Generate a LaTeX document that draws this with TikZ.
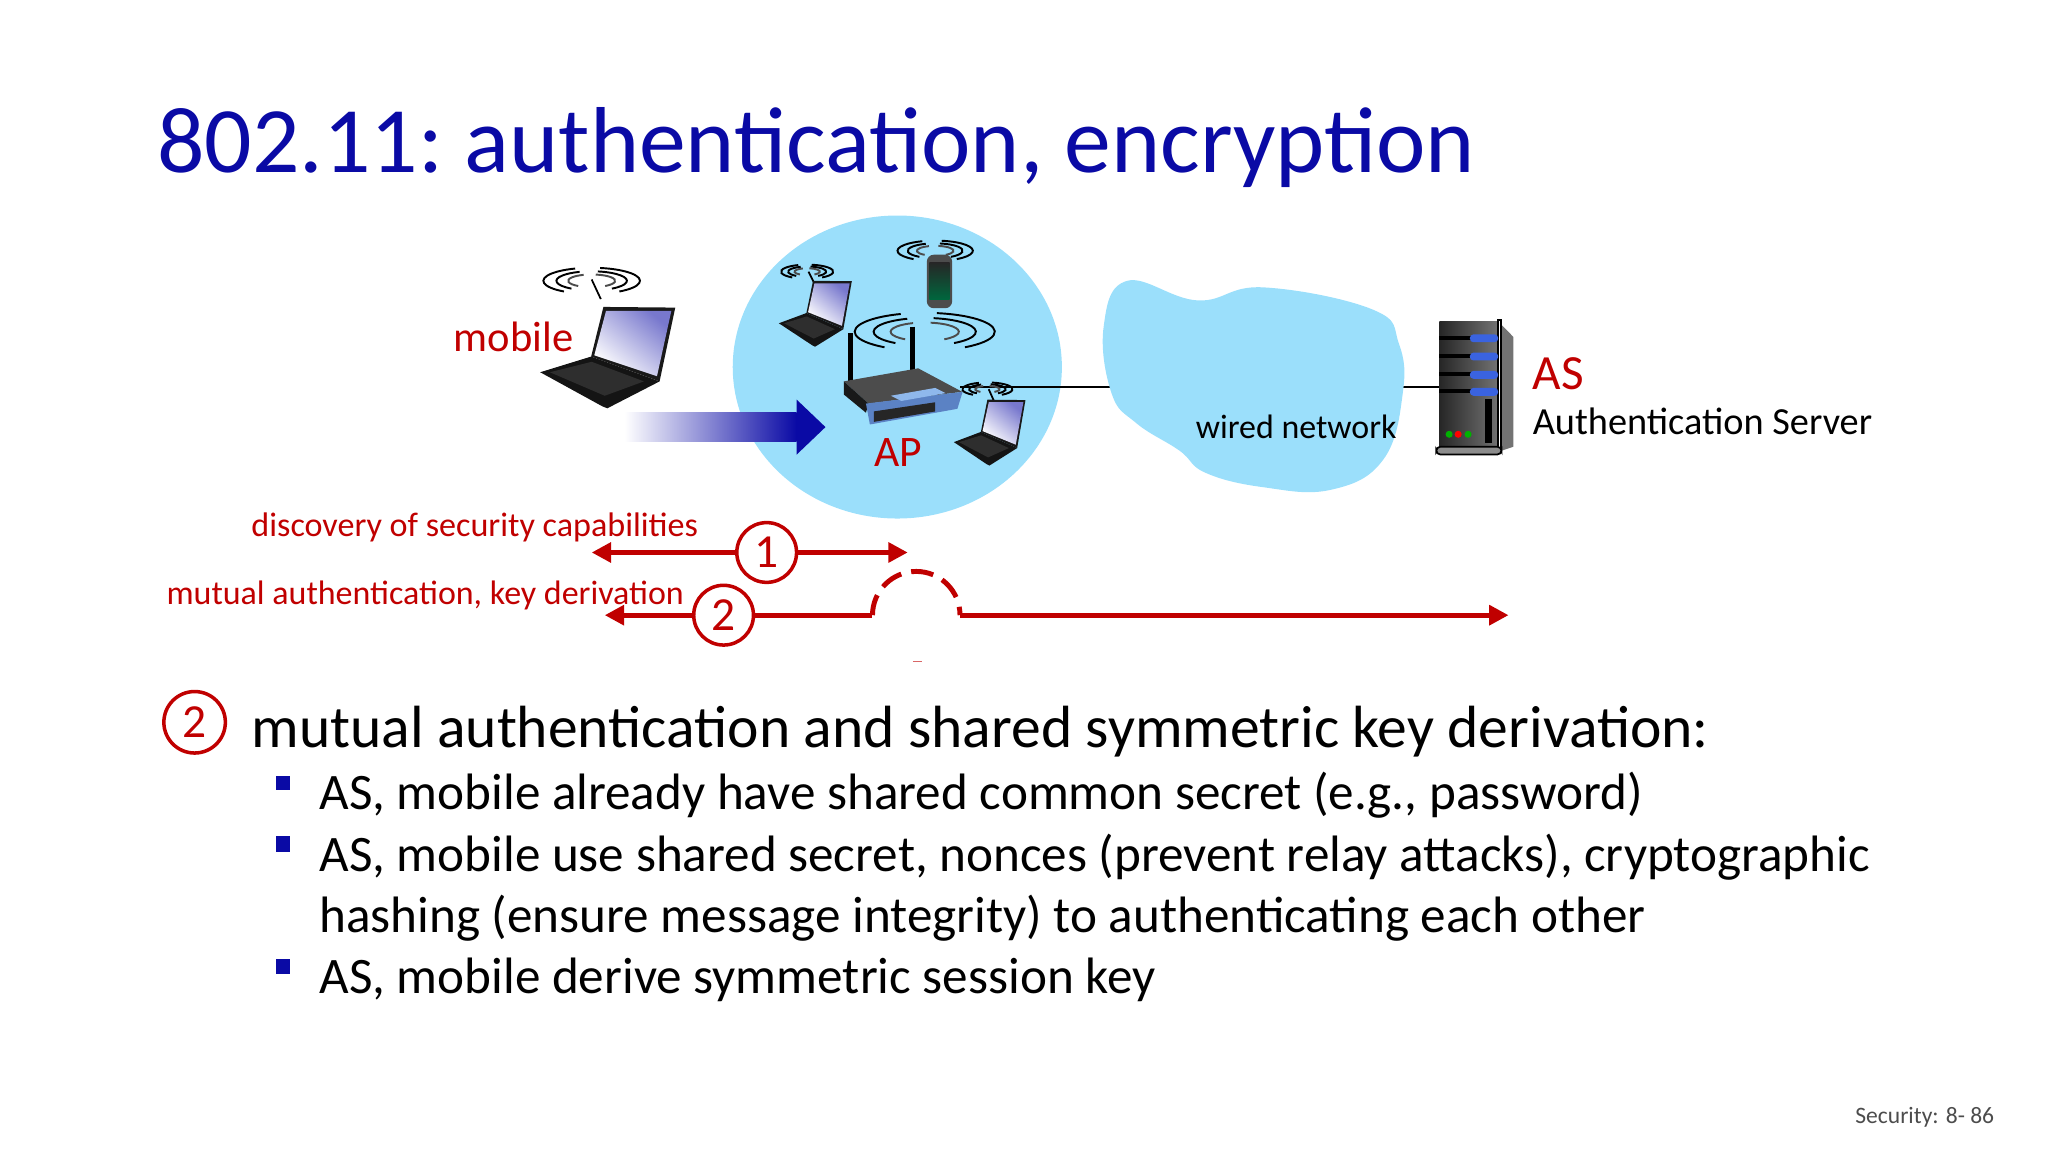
\documentclass[tikz,border=0pt]{standalone}
\usepackage{fontspec}
\setmainfont{Carlito}
\usetikzlibrary{arrows.meta}
\definecolor{slideblue}{HTML}{0A0AA5}
\definecolor{secred}{HTML}{C00000}
\definecolor{netblue}{HTML}{9BDFFB}
\definecolor{routerblue}{HTML}{5B82C4}
\definecolor{routerlight}{HTML}{8FB8EC}
\definecolor{serverblue}{HTML}{3A63E0}
\tikzset{
  redlbl/.style={inner sep=0pt,text=secred,anchor=base west},
  blklbl/.style={inner sep=0pt,text=black,anchor=base west},
  bulletbox/.style={fill=slideblue,draw=none},
  numcirc/.style={draw=secred,line width=1pt,circle,fill=white,inner sep=0pt,minimum size=17pt,text=secred,font=\fontsize{13.5}{14}\selectfont},
  sigline/.style={draw=secred,line width=1.4pt,-{Triangle[length=5.5pt,width=5.5pt]}},
  laptop/.pic={
    \fill[black!92] (0.6,50) -- (39.6,38) -- (92,57) -- (52,77.6) -- (48,76) -- cycle;
    \fill[black!82] (8,50) -- (40,42) -- (80,57) -- (50,68) -- cycle;
    \fill[black!90] (49,0) -- (104,0.5) -- (92,57) -- (39.6,38) -- cycle;
    \shade[left color=slideblue!55!white,middle color=white,right color=white,shading angle=-40] (51,3) -- (101,3) -- (90,53) -- (42,37) -- cycle;
  },
  wifi/.pic={
    \foreach \r/\c in {37/black,27/black,18/black!70} {
      \draw[\c,line width=0.55pt] (125:\r*1 and \r*0.27) arc[start angle=125,end angle=250,x radius={\r},y radius={\r*0.27}];
      \draw[\c,line width=0.55pt] (-80:\r*1 and \r*0.27) arc[start angle=-80,end angle=55,x radius={\r},y radius={\r*0.27}];
    }
  }
}
\begin{document}
\begin{tikzpicture}[x=0.013061cm,y=-0.013061cm]
\useasboundingbox (0,0) rectangle (1568,882);
\node[inner sep=0pt,anchor=base west,text=slideblue,font=\fontsize{26.65}{30}\selectfont] (title) at (120,132) {802.11:\ authentication, encryption};
\fill[netblue] (687,281) ellipse [x radius=126,y radius=116];
\coordinate (apport) at (735,296);
\coordinate (asport) at (1102,296);
\draw[black,line width=0.6pt] (apport) -- (asport);
\fill[netblue] plot[smooth cycle,tension=0.7] coordinates {(863,215) (917,230) (967,220) (1051,237) (1071,263) (1074,301) (1059,352) (1019,375) (967,373) (923,362) (903,345) (870,324) (851,301) (845,250)};
\pic at (453,215) {wifi};
\draw[black,line width=0.5pt] (453,214) -- (460,229);
\pic at (413,235) {laptop};
\pic[scale=0.54] at (618,208) {wifi};
\draw[black,line width=0.5pt] (619,208) -- (623,216);
\pic[xscale=0.54,yscale=0.65] at (596,215) {laptop};
\pic[scale=0.78] at (716,192) {wifi};
\fill[black!70,rounded corners=2pt] (709.6,195) rectangle (729,236);
\shade[top color=black!85,bottom color=black!60!blue!60!green] (711.5,201) rectangle (727,229);
\pic[scale=0.52] at (756,298) {wifi};
\draw[black,line width=0.5pt] (757,298) -- (761,307);
\pic[xscale=0.53,yscale=0.65] at (730,306) {laptop};
\pic[scale=1.45] at (708,254) {wifi};
\draw[black,line width=1.3pt] (651,255) -- (651,292);
\draw[black,line width=1.3pt] (698.6,250) -- (698.6,285);
\fill[black!70] (646,292) -- (703,282) -- (736.7,300) -- (665,309) -- cycle;
\fill[black!90] (646,292) -- (665,309) -- (663,316) -- (646,302) -- cycle;
\fill[routerblue] (663,309) -- (737,300) -- (733,313) -- (666,325) -- cycle;
\fill[routerlight] (682,303) -- (716,297) -- (724,301) -- (690,307) -- cycle;
\fill[black!85] (669,315) -- (716,308) -- (716,315) -- (669,323) -- cycle;
\fill[black!55] (1147,246) -- (1158.7,258) -- (1158.7,342) -- (1147,346) -- cycle;
\shade[left color=black!85,right color=black!55] (1102,246) rectangle (1147,345);
\draw[black,line width=0.5pt,fill=white] (1147,245) rectangle (1149,346);
\foreach \y in {259,273,287,300} {
  \fill[black] (1102,\y-2) rectangle (1126,\y+1);
  \fill[serverblue,rounded corners=1pt] (1125.4,\y-3) rectangle (1147,\y+3);
}
\fill[black] (1137,305.7) rectangle (1142,339);
\fill[green!70!black] (1109.5,332.5) circle [radius=2.7];
\fill[green!70!black] (1124,332.5) circle [radius=2.7];
\fill[red] (1116.4,332.5) circle [radius=2.7];
\draw[black,line width=0.5pt,fill=black!45,rounded corners=1.2pt] (1099.6,342) rectangle (1149.6,348);
\shade[left color=white,right color=slideblue] (478,316) rectangle (610,338);
\fill[slideblue] (610,306) -- (632,327) -- (610,348) -- cycle;
\node[redlbl,font=\fontsize{12.1}{14}\selectfont] (mobile) at (347,269) {mobile};
\node[redlbl,font=\fontsize{12.4}{14}\selectfont] (ap) at (669,357) {AP};
\node[redlbl,font=\fontsize{14}{16}\selectfont] (as) at (1173,298) {AS};
\node[blklbl,font=\fontsize{10.9}{12}\selectfont] (asname) at (1173,333) {Authentication Server};
\node[blklbl,font=\fontsize{9.65}{12}\selectfont] (wired) at (915,336) {wired network};
\node[redlbl,font=\fontsize{9.7}{12}\selectfont] (disc) at (192,411) {discovery of security capabilities};
\node[redlbl,font=\fontsize{9.66}{12}\selectfont] (auth) at (127,463) {mutual authentication, key derivation};
\node[numcirc] (n1) at (587,423) {1};
\node[numcirc] (n2) at (554,471) {2};
\coordinate (d1l) at (453,423);
\coordinate (d1r) at (695,423);
\coordinate (d2l) at (463,471);
\coordinate (d2a) at (668,471);
\coordinate (d2b) at (735,471);
\coordinate (d2r) at (1155,471);
\draw[sigline] (n1) -- (d1l);
\draw[sigline] (n1) -- (d1r);
\draw[sigline] (n2) -- (d2l);
\draw[secred,line width=1.4pt] (n2) -- (d2a);
\draw[secred,line width=1.4pt,dash pattern=on 6.4pt off 2.9pt,dash phase=0.5pt] (d2a) arc[start angle=180,end angle=360,radius=33.5];
\draw[sigline] (d2b) -- (d2r);
\draw[secred!60,line width=0.4pt] (699,506.5) -- (706,506.5);
\node[numcirc,minimum size=17.5pt] (n3) at (149,553) {2};
\node[blklbl,font=\fontsize{16.95}{20}\selectfont] (head) at (192,572) {mutual authentication and shared symmetric key derivation:};
\node[blklbl,font=\fontsize{14.56}{18}\selectfont] (b1) at (244,620) {AS, mobile already have shared common secret (e.g., password)};
\node[blklbl,font=\fontsize{14.56}{18}\selectfont] (b2) at (244,667) {AS, mobile use shared secret, nonces (prevent relay attacks), cryptographic};
\node[blklbl,font=\fontsize{14.56}{18}\selectfont] (b3) at (244,714) {hashing (ensure message integrity) to authenticating each other};
\node[blklbl,font=\fontsize{14.56}{18}\selectfont] (b4) at (244,761) {AS, mobile derive symmetric session key};
\fill[bulletbox] (211,594) rectangle (222,605);
\fill[bulletbox] (211,640) rectangle (222,652);
\fill[bulletbox] (211,734) rectangle (222,746);
\node[blklbl,text=black!70,font=\fontsize{6.7}{8}\selectfont] (foot) at (1420,860) {Security: 8- 86};
\end{tikzpicture}
\end{document}
